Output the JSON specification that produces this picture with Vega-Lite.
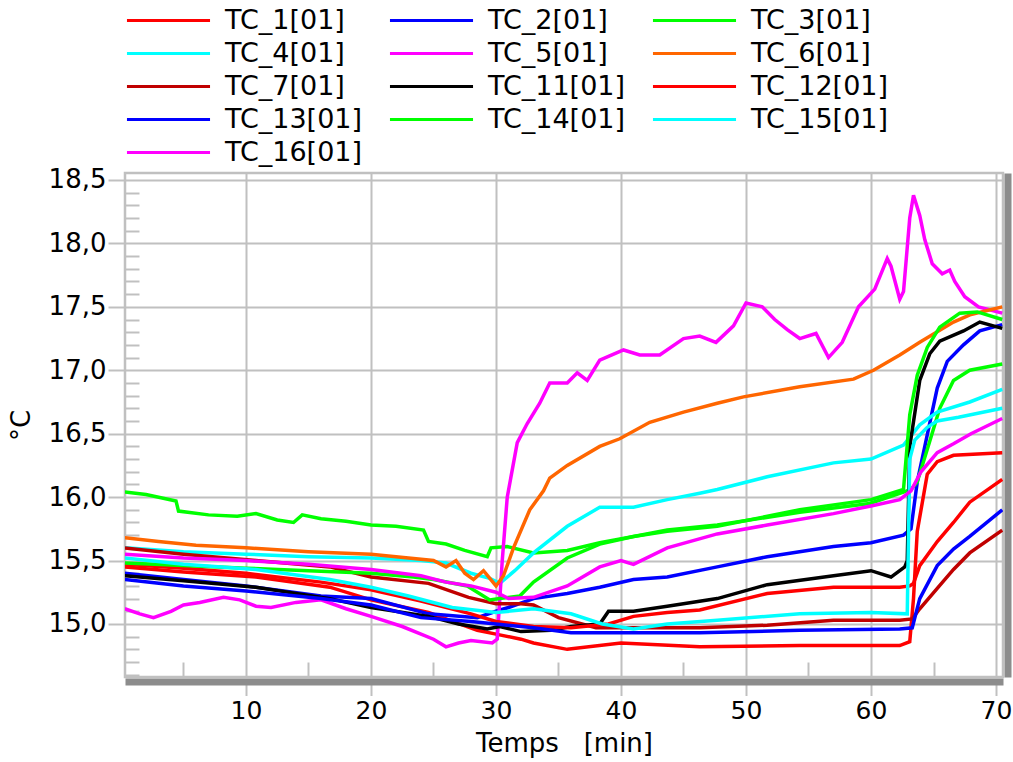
{
  "$schema": "https://vega.github.io/schema/vega-lite/v6.json",
  "width": 878,
  "height": 504,
  "autosize": {"type": "none"},
  "padding": {"left": 125, "top": 173, "right": 10, "bottom": 85},
  "background": "white",
  "config": {
    "view": {"stroke": "#c0c0c0", "strokeWidth": 2.5},
    "axis": {"labelFont": "DejaVu Sans", "titleFont": "DejaVu Sans", "labelColor": "#000000", "titleColor": "#000000", "titleFontWeight": "normal"},
    "legend": {"labelFont": "DejaVu Sans", "labelColor": "#000000"}
  },
  "data": {"values": [
    {"s":"TC_1[01]","t":0.3,"v":15.45},{"s":"TC_1[01]","t":5,"v":15.41},{"s":"TC_1[01]","t":10.8,"v":15.37},{"s":"TC_1[01]","t":16.7,"v":15.29},{"s":"TC_1[01]","t":20,"v":15.19},{"s":"TC_1[01]","t":24.6,"v":15.09},{"s":"TC_1[01]","t":28.5,"v":14.95},{"s":"TC_1[01]","t":30,"v":14.92},{"s":"TC_1[01]","t":32,"v":14.88},{"s":"TC_1[01]","t":33,"v":14.85},{"s":"TC_1[01]","t":35.7,"v":14.8},{"s":"TC_1[01]","t":40,"v":14.85},{"s":"TC_1[01]","t":46.3,"v":14.82},{"s":"TC_1[01]","t":54.3,"v":14.83},{"s":"TC_1[01]","t":62.3,"v":14.83},{"s":"TC_1[01]","t":63.1,"v":14.86},{"s":"TC_1[01]","t":63.4,"v":15.2},{"s":"TC_1[01]","t":63.7,"v":15.73},{"s":"TC_1[01]","t":64.5,"v":16.18},{"s":"TC_1[01]","t":65.3,"v":16.28},{"s":"TC_1[01]","t":66.6,"v":16.33},{"s":"TC_1[01]","t":70.5,"v":16.35},

    {"s":"TC_2[01]","t":0.3,"v":15.4},{"s":"TC_2[01]","t":5,"v":15.35},{"s":"TC_2[01]","t":10,"v":15.3},{"s":"TC_2[01]","t":16,"v":15.22},{"s":"TC_2[01]","t":20,"v":15.2},{"s":"TC_2[01]","t":24.6,"v":15.08},{"s":"TC_2[01]","t":28.5,"v":15.05},{"s":"TC_2[01]","t":30,"v":15.1},{"s":"TC_2[01]","t":31,"v":15.13},{"s":"TC_2[01]","t":33,"v":15.2},{"s":"TC_2[01]","t":35.7,"v":15.24},{"s":"TC_2[01]","t":38.3,"v":15.29},{"s":"TC_2[01]","t":41,"v":15.35},{"s":"TC_2[01]","t":43.7,"v":15.37},{"s":"TC_2[01]","t":47.7,"v":15.45},{"s":"TC_2[01]","t":51.7,"v":15.53},{"s":"TC_2[01]","t":57,"v":15.61},{"s":"TC_2[01]","t":60,"v":15.64},{"s":"TC_2[01]","t":62.6,"v":15.7},{"s":"TC_2[01]","t":63.2,"v":15.75},{"s":"TC_2[01]","t":63.7,"v":16.12},{"s":"TC_2[01]","t":64.5,"v":16.49},{"s":"TC_2[01]","t":65.3,"v":16.86},{"s":"TC_2[01]","t":66.1,"v":17.07},{"s":"TC_2[01]","t":67.4,"v":17.2},{"s":"TC_2[01]","t":68.7,"v":17.31},{"s":"TC_2[01]","t":70.5,"v":17.36},

    {"s":"TC_3[01]","t":0.3,"v":16.04},{"s":"TC_3[01]","t":2,"v":16.02},{"s":"TC_3[01]","t":4.4,"v":15.97},{"s":"TC_3[01]","t":4.6,"v":15.89},{"s":"TC_3[01]","t":7,"v":15.86},{"s":"TC_3[01]","t":9.3,"v":15.85},{"s":"TC_3[01]","t":10.8,"v":15.87},{"s":"TC_3[01]","t":12.5,"v":15.82},{"s":"TC_3[01]","t":13.8,"v":15.8},{"s":"TC_3[01]","t":14.5,"v":15.86},{"s":"TC_3[01]","t":16,"v":15.83},{"s":"TC_3[01]","t":18,"v":15.81},{"s":"TC_3[01]","t":20,"v":15.78},{"s":"TC_3[01]","t":22,"v":15.77},{"s":"TC_3[01]","t":24.2,"v":15.74},{"s":"TC_3[01]","t":24.6,"v":15.65},{"s":"TC_3[01]","t":26,"v":15.63},{"s":"TC_3[01]","t":27.5,"v":15.58},{"s":"TC_3[01]","t":29.3,"v":15.53},{"s":"TC_3[01]","t":29.6,"v":15.6},{"s":"TC_3[01]","t":30.9,"v":15.61},{"s":"TC_3[01]","t":33,"v":15.56},{"s":"TC_3[01]","t":35.7,"v":15.58},{"s":"TC_3[01]","t":38.3,"v":15.64},{"s":"TC_3[01]","t":41,"v":15.69},{"s":"TC_3[01]","t":43.7,"v":15.74},{"s":"TC_3[01]","t":47.7,"v":15.78},{"s":"TC_3[01]","t":54.3,"v":15.88},{"s":"TC_3[01]","t":59.9,"v":15.95},{"s":"TC_3[01]","t":62.6,"v":16.04},{"s":"TC_3[01]","t":63.2,"v":16.06},{"s":"TC_3[01]","t":63.7,"v":16.12},{"s":"TC_3[01]","t":64.7,"v":16.44},{"s":"TC_3[01]","t":65.5,"v":16.7},{"s":"TC_3[01]","t":66.6,"v":16.92},{"s":"TC_3[01]","t":67.9,"v":17.0},{"s":"TC_3[01]","t":70.5,"v":17.05},

    {"s":"TC_4[01]","t":0.3,"v":15.6},{"s":"TC_4[01]","t":5,"v":15.57},{"s":"TC_4[01]","t":10,"v":15.55},{"s":"TC_4[01]","t":15,"v":15.53},{"s":"TC_4[01]","t":20,"v":15.52},{"s":"TC_4[01]","t":24,"v":15.5},{"s":"TC_4[01]","t":26,"v":15.48},{"s":"TC_4[01]","t":28,"v":15.4},{"s":"TC_4[01]","t":29.5,"v":15.36},{"s":"TC_4[01]","t":30.3,"v":15.32},{"s":"TC_4[01]","t":31.5,"v":15.42},{"s":"TC_4[01]","t":33,"v":15.56},{"s":"TC_4[01]","t":35.7,"v":15.77},{"s":"TC_4[01]","t":38.3,"v":15.92},{"s":"TC_4[01]","t":41,"v":15.92},{"s":"TC_4[01]","t":43.7,"v":15.98},{"s":"TC_4[01]","t":46.3,"v":16.03},{"s":"TC_4[01]","t":47.7,"v":16.06},{"s":"TC_4[01]","t":51.7,"v":16.16},{"s":"TC_4[01]","t":57,"v":16.27},{"s":"TC_4[01]","t":60,"v":16.3},{"s":"TC_4[01]","t":62.6,"v":16.41},{"s":"TC_4[01]","t":63.9,"v":16.57},{"s":"TC_4[01]","t":65.3,"v":16.67},{"s":"TC_4[01]","t":67.9,"v":16.75},{"s":"TC_4[01]","t":70.5,"v":16.85},

    {"s":"TC_5[01]","t":0.3,"v":15.12},{"s":"TC_5[01]","t":1.5,"v":15.08},{"s":"TC_5[01]","t":2.6,"v":15.05},{"s":"TC_5[01]","t":4,"v":15.1},{"s":"TC_5[01]","t":5,"v":15.15},{"s":"TC_5[01]","t":6.3,"v":15.17},{"s":"TC_5[01]","t":8.2,"v":15.21},{"s":"TC_5[01]","t":9.5,"v":15.19},{"s":"TC_5[01]","t":10.8,"v":15.14},{"s":"TC_5[01]","t":12,"v":15.13},{"s":"TC_5[01]","t":14,"v":15.17},{"s":"TC_5[01]","t":16,"v":15.19},{"s":"TC_5[01]","t":18,"v":15.12},{"s":"TC_5[01]","t":20,"v":15.06},{"s":"TC_5[01]","t":22.5,"v":14.98},{"s":"TC_5[01]","t":24,"v":14.92},{"s":"TC_5[01]","t":25,"v":14.88},{"s":"TC_5[01]","t":26,"v":14.82},{"s":"TC_5[01]","t":27,"v":14.85},{"s":"TC_5[01]","t":28,"v":14.87},{"s":"TC_5[01]","t":29.7,"v":14.85},{"s":"TC_5[01]","t":30.1,"v":14.88},{"s":"TC_5[01]","t":30.5,"v":15.5},{"s":"TC_5[01]","t":30.9,"v":16.0},{"s":"TC_5[01]","t":31.7,"v":16.43},{"s":"TC_5[01]","t":32.5,"v":16.58},{"s":"TC_5[01]","t":33.5,"v":16.74},{"s":"TC_5[01]","t":34.3,"v":16.9},{"s":"TC_5[01]","t":35.7,"v":16.9},{"s":"TC_5[01]","t":36.5,"v":16.98},{"s":"TC_5[01]","t":37.3,"v":16.92},{"s":"TC_5[01]","t":38.3,"v":17.08},{"s":"TC_5[01]","t":40.2,"v":17.16},{"s":"TC_5[01]","t":41.5,"v":17.12},{"s":"TC_5[01]","t":43.1,"v":17.12},{"s":"TC_5[01]","t":45,"v":17.25},{"s":"TC_5[01]","t":46.3,"v":17.27},{"s":"TC_5[01]","t":47.6,"v":17.22},{"s":"TC_5[01]","t":49,"v":17.35},{"s":"TC_5[01]","t":50,"v":17.53},{"s":"TC_5[01]","t":51.3,"v":17.5},{"s":"TC_5[01]","t":52.3,"v":17.4},{"s":"TC_5[01]","t":53.3,"v":17.32},{"s":"TC_5[01]","t":54.3,"v":17.25},{"s":"TC_5[01]","t":55.6,"v":17.29},{"s":"TC_5[01]","t":56.6,"v":17.1},{"s":"TC_5[01]","t":57.7,"v":17.22},{"s":"TC_5[01]","t":59,"v":17.5},{"s":"TC_5[01]","t":60.3,"v":17.64},{"s":"TC_5[01]","t":61.3,"v":17.88},{"s":"TC_5[01]","t":61.6,"v":17.82},{"s":"TC_5[01]","t":62.3,"v":17.56},{"s":"TC_5[01]","t":62.6,"v":17.62},{"s":"TC_5[01]","t":63.1,"v":18.2},{"s":"TC_5[01]","t":63.4,"v":18.38},{"s":"TC_5[01]","t":63.9,"v":18.22},{"s":"TC_5[01]","t":64.3,"v":18.03},{"s":"TC_5[01]","t":64.9,"v":17.84},{"s":"TC_5[01]","t":65.7,"v":17.76},{"s":"TC_5[01]","t":66.3,"v":17.79},{"s":"TC_5[01]","t":66.7,"v":17.7},{"s":"TC_5[01]","t":67.5,"v":17.58},{"s":"TC_5[01]","t":68.6,"v":17.5},{"s":"TC_5[01]","t":70.5,"v":17.45},

    {"s":"TC_6[01]","t":0.3,"v":15.68},{"s":"TC_6[01]","t":3,"v":15.65},{"s":"TC_6[01]","t":6,"v":15.62},{"s":"TC_6[01]","t":10,"v":15.6},{"s":"TC_6[01]","t":15,"v":15.57},{"s":"TC_6[01]","t":20,"v":15.55},{"s":"TC_6[01]","t":23,"v":15.52},{"s":"TC_6[01]","t":25,"v":15.5},{"s":"TC_6[01]","t":26,"v":15.45},{"s":"TC_6[01]","t":26.8,"v":15.5},{"s":"TC_6[01]","t":27.5,"v":15.4},{"s":"TC_6[01]","t":28.2,"v":15.35},{"s":"TC_6[01]","t":29,"v":15.42},{"s":"TC_6[01]","t":30,"v":15.3},{"s":"TC_6[01]","t":30.6,"v":15.38},{"s":"TC_6[01]","t":31.4,"v":15.6},{"s":"TC_6[01]","t":32.7,"v":15.9},{"s":"TC_6[01]","t":33.8,"v":16.05},{"s":"TC_6[01]","t":34.3,"v":16.15},{"s":"TC_6[01]","t":35.7,"v":16.25},{"s":"TC_6[01]","t":38.3,"v":16.4},{"s":"TC_6[01]","t":39.9,"v":16.46},{"s":"TC_6[01]","t":42.3,"v":16.59},{"s":"TC_6[01]","t":45,"v":16.67},{"s":"TC_6[01]","t":47.7,"v":16.74},{"s":"TC_6[01]","t":49.8,"v":16.79},{"s":"TC_6[01]","t":54.3,"v":16.87},{"s":"TC_6[01]","t":58.6,"v":16.93},{"s":"TC_6[01]","t":60.2,"v":17.0},{"s":"TC_6[01]","t":62.3,"v":17.12},{"s":"TC_6[01]","t":63.9,"v":17.22},{"s":"TC_6[01]","t":66.6,"v":17.38},{"s":"TC_6[01]","t":68,"v":17.44},{"s":"TC_6[01]","t":70.5,"v":17.5},

    {"s":"TC_7[01]","t":0.3,"v":15.6},{"s":"TC_7[01]","t":5,"v":15.55},{"s":"TC_7[01]","t":10.8,"v":15.5},{"s":"TC_7[01]","t":16.7,"v":15.45},{"s":"TC_7[01]","t":20,"v":15.37},{"s":"TC_7[01]","t":24.6,"v":15.32},{"s":"TC_7[01]","t":27.8,"v":15.21},{"s":"TC_7[01]","t":30,"v":15.16},{"s":"TC_7[01]","t":32,"v":15.16},{"s":"TC_7[01]","t":33,"v":15.15},{"s":"TC_7[01]","t":35,"v":15.05},{"s":"TC_7[01]","t":38,"v":14.97},{"s":"TC_7[01]","t":46.3,"v":14.97},{"s":"TC_7[01]","t":51.7,"v":14.99},{"s":"TC_7[01]","t":57,"v":15.03},{"s":"TC_7[01]","t":62.3,"v":15.03},{"s":"TC_7[01]","t":63.3,"v":15.04},{"s":"TC_7[01]","t":63.9,"v":15.12},{"s":"TC_7[01]","t":65.3,"v":15.28},{"s":"TC_7[01]","t":66.6,"v":15.43},{"s":"TC_7[01]","t":67.9,"v":15.56},{"s":"TC_7[01]","t":70.5,"v":15.74},

    {"s":"TC_11[01]","t":0.3,"v":15.38},{"s":"TC_11[01]","t":5,"v":15.34},{"s":"TC_11[01]","t":10.8,"v":15.29},{"s":"TC_11[01]","t":16.7,"v":15.2},{"s":"TC_11[01]","t":20,"v":15.13},{"s":"TC_11[01]","t":24.6,"v":15.06},{"s":"TC_11[01]","t":27,"v":15.0},{"s":"TC_11[01]","t":29.3,"v":14.96},{"s":"TC_11[01]","t":30.3,"v":14.98},{"s":"TC_11[01]","t":32,"v":14.94},{"s":"TC_11[01]","t":34.4,"v":14.95},{"s":"TC_11[01]","t":36,"v":14.98},{"s":"TC_11[01]","t":38.3,"v":15.0},{"s":"TC_11[01]","t":39,"v":15.1},{"s":"TC_11[01]","t":41,"v":15.1},{"s":"TC_11[01]","t":43.7,"v":15.14},{"s":"TC_11[01]","t":47.7,"v":15.2},{"s":"TC_11[01]","t":51.7,"v":15.31},{"s":"TC_11[01]","t":57,"v":15.38},{"s":"TC_11[01]","t":60,"v":15.42},{"s":"TC_11[01]","t":61.6,"v":15.37},{"s":"TC_11[01]","t":62.7,"v":15.45},{"s":"TC_11[01]","t":62.9,"v":15.5},{"s":"TC_11[01]","t":63.1,"v":16.4},{"s":"TC_11[01]","t":63.9,"v":16.92},{"s":"TC_11[01]","t":64.7,"v":17.13},{"s":"TC_11[01]","t":65.5,"v":17.23},{"s":"TC_11[01]","t":67.4,"v":17.31},{"s":"TC_11[01]","t":68.7,"v":17.38},{"s":"TC_11[01]","t":70.5,"v":17.33},

    {"s":"TC_12[01]","t":0.3,"v":15.47},{"s":"TC_12[01]","t":5,"v":15.44},{"s":"TC_12[01]","t":10,"v":15.4},{"s":"TC_12[01]","t":16,"v":15.33},{"s":"TC_12[01]","t":20,"v":15.27},{"s":"TC_12[01]","t":24,"v":15.18},{"s":"TC_12[01]","t":28,"v":15.08},{"s":"TC_12[01]","t":30,"v":15.02},{"s":"TC_12[01]","t":33,"v":14.98},{"s":"TC_12[01]","t":36,"v":14.97},{"s":"TC_12[01]","t":39,"v":15.0},{"s":"TC_12[01]","t":41,"v":15.06},{"s":"TC_12[01]","t":43.7,"v":15.09},{"s":"TC_12[01]","t":46.3,"v":15.11},{"s":"TC_12[01]","t":51.7,"v":15.24},{"s":"TC_12[01]","t":57,"v":15.29},{"s":"TC_12[01]","t":62.3,"v":15.29},{"s":"TC_12[01]","t":63.1,"v":15.3},{"s":"TC_12[01]","t":63.4,"v":15.32},{"s":"TC_12[01]","t":63.9,"v":15.46},{"s":"TC_12[01]","t":65.3,"v":15.65},{"s":"TC_12[01]","t":66.6,"v":15.8},{"s":"TC_12[01]","t":67.9,"v":15.96},{"s":"TC_12[01]","t":70.5,"v":16.14},

    {"s":"TC_13[01]","t":0.3,"v":15.35},{"s":"TC_13[01]","t":5,"v":15.3},{"s":"TC_13[01]","t":10,"v":15.26},{"s":"TC_13[01]","t":16,"v":15.2},{"s":"TC_13[01]","t":20,"v":15.15},{"s":"TC_13[01]","t":24,"v":15.05},{"s":"TC_13[01]","t":28,"v":15.02},{"s":"TC_13[01]","t":30,"v":15.0},{"s":"TC_13[01]","t":33,"v":14.97},{"s":"TC_13[01]","t":36,"v":14.93},{"s":"TC_13[01]","t":40,"v":14.93},{"s":"TC_13[01]","t":46.3,"v":14.93},{"s":"TC_13[01]","t":54.3,"v":14.95},{"s":"TC_13[01]","t":62.3,"v":14.96},{"s":"TC_13[01]","t":63.3,"v":14.97},{"s":"TC_13[01]","t":63.9,"v":15.2},{"s":"TC_13[01]","t":65.3,"v":15.46},{"s":"TC_13[01]","t":66.6,"v":15.59},{"s":"TC_13[01]","t":67.9,"v":15.69},{"s":"TC_13[01]","t":70.5,"v":15.9},

    {"s":"TC_14[01]","t":0.3,"v":15.48},{"s":"TC_14[01]","t":5,"v":15.46},{"s":"TC_14[01]","t":10,"v":15.44},{"s":"TC_14[01]","t":15,"v":15.42},{"s":"TC_14[01]","t":20,"v":15.4},{"s":"TC_14[01]","t":23.4,"v":15.37},{"s":"TC_14[01]","t":25,"v":15.35},{"s":"TC_14[01]","t":27.7,"v":15.3},{"s":"TC_14[01]","t":29.5,"v":15.19},{"s":"TC_14[01]","t":30.3,"v":15.2},{"s":"TC_14[01]","t":31.9,"v":15.22},{"s":"TC_14[01]","t":33,"v":15.33},{"s":"TC_14[01]","t":35.7,"v":15.52},{"s":"TC_14[01]","t":38.3,"v":15.63},{"s":"TC_14[01]","t":41,"v":15.69},{"s":"TC_14[01]","t":43.7,"v":15.73},{"s":"TC_14[01]","t":47.7,"v":15.77},{"s":"TC_14[01]","t":54.3,"v":15.9},{"s":"TC_14[01]","t":60,"v":15.98},{"s":"TC_14[01]","t":62.6,"v":16.06},{"s":"TC_14[01]","t":63.1,"v":16.65},{"s":"TC_14[01]","t":63.7,"v":16.96},{"s":"TC_14[01]","t":64.5,"v":17.18},{"s":"TC_14[01]","t":65.5,"v":17.34},{"s":"TC_14[01]","t":67.1,"v":17.45},{"s":"TC_14[01]","t":68.5,"v":17.46},{"s":"TC_14[01]","t":70.5,"v":17.4},

    {"s":"TC_15[01]","t":0.3,"v":15.52},{"s":"TC_15[01]","t":5,"v":15.47},{"s":"TC_15[01]","t":10.8,"v":15.43},{"s":"TC_15[01]","t":16.7,"v":15.35},{"s":"TC_15[01]","t":20,"v":15.29},{"s":"TC_15[01]","t":23,"v":15.22},{"s":"TC_15[01]","t":26.5,"v":15.13},{"s":"TC_15[01]","t":30,"v":15.09},{"s":"TC_15[01]","t":33,"v":15.12},{"s":"TC_15[01]","t":36,"v":15.08},{"s":"TC_15[01]","t":38.5,"v":15.0},{"s":"TC_15[01]","t":41,"v":14.96},{"s":"TC_15[01]","t":43.7,"v":15.0},{"s":"TC_15[01]","t":47.7,"v":15.03},{"s":"TC_15[01]","t":54.3,"v":15.08},{"s":"TC_15[01]","t":60,"v":15.09},{"s":"TC_15[01]","t":62.9,"v":15.08},{"s":"TC_15[01]","t":63.1,"v":16.3},{"s":"TC_15[01]","t":63.5,"v":16.45},{"s":"TC_15[01]","t":64.5,"v":16.55},{"s":"TC_15[01]","t":65.3,"v":16.6},{"s":"TC_15[01]","t":67,"v":16.63},{"s":"TC_15[01]","t":70.5,"v":16.7},

    {"s":"TC_16[01]","t":0.3,"v":15.55},{"s":"TC_16[01]","t":5,"v":15.52},{"s":"TC_16[01]","t":10,"v":15.5},{"s":"TC_16[01]","t":15,"v":15.47},{"s":"TC_16[01]","t":20,"v":15.43},{"s":"TC_16[01]","t":24,"v":15.38},{"s":"TC_16[01]","t":26,"v":15.33},{"s":"TC_16[01]","t":28,"v":15.3},{"s":"TC_16[01]","t":30,"v":15.25},{"s":"TC_16[01]","t":31,"v":15.2},{"s":"TC_16[01]","t":33,"v":15.21},{"s":"TC_16[01]","t":35.7,"v":15.3},{"s":"TC_16[01]","t":38.3,"v":15.45},{"s":"TC_16[01]","t":40,"v":15.5},{"s":"TC_16[01]","t":41,"v":15.47},{"s":"TC_16[01]","t":43.7,"v":15.6},{"s":"TC_16[01]","t":47.7,"v":15.71},{"s":"TC_16[01]","t":51.7,"v":15.78},{"s":"TC_16[01]","t":57,"v":15.87},{"s":"TC_16[01]","t":60,"v":15.93},{"s":"TC_16[01]","t":62.3,"v":15.98},{"s":"TC_16[01]","t":63.2,"v":16.05},{"s":"TC_16[01]","t":64,"v":16.2},{"s":"TC_16[01]","t":65.3,"v":16.35},{"s":"TC_16[01]","t":66.6,"v":16.42},{"s":"TC_16[01]","t":68,"v":16.5},{"s":"TC_16[01]","t":70.5,"v":16.62}
  ]},
  "layer": [
    {
      "mark": {"type": "line", "strokeWidth": 3.5, "clip": true},
      "encoding": {
        "x": {"field": "t", "type": "quantitative",
          "scale": {"domain": [0.32, 70.56], "nice": false, "zero": false},
          "axis": {"orient": "bottom", "values": [10, 20, 30, 40, 50, 60, 70], "grid": true, "gridColor": "#c0c0c0", "gridWidth": 2,
            "domain": true, "domainColor": "#8c8c8c", "domainWidth": 7, "offset": 4.5,
            "ticks": true, "tickSize": 14, "tickColor": "#c0c0c0", "tickWidth": 2,
            "labelFontSize": 25, "labelPadding": 3, "labelFlush": false,
            "title": "Temps\u00a0\u00a0\u00a0[min]", "titleFontSize": 26, "titlePadding": 7}},
        "y": {"field": "v", "type": "quantitative",
          "scale": {"domain": [14.582, 18.555], "nice": false, "zero": false},
          "axis": {"orient": "left", "values": [15, 15.5, 16, 16.5, 17, 17.5, 18, 18.5], "grid": true, "gridColor": "#c0c0c0", "gridWidth": 2,
            "domain": false, "ticks": true, "tickSize": 17, "tickColor": "#c0c0c0", "tickWidth": 2,
            "labelFontSize": 26, "labelPadding": 2, "labelFlush": false,
            "labelExpr": "replace(format(datum.value, '.1f'), '.', ',')",
            "title": "°C", "titleFontSize": 26, "titlePadding": 14}},
        "color": {"field": "s", "type": "nominal",
          "scale": {"domain": ["TC_1[01]", "TC_2[01]", "TC_3[01]", "TC_4[01]", "TC_5[01]", "TC_6[01]", "TC_7[01]", "TC_11[01]", "TC_12[01]", "TC_13[01]", "TC_14[01]", "TC_15[01]", "TC_16[01]"],
            "range": ["#ff0000", "#0000ff", "#00ff00", "#00ffff", "#ff00ff", "#ff6600", "#c00000", "#000000", "#ff0000", "#0000ff", "#00ff00", "#00ffff", "#ff00ff"]},
          "legend": {"orient": "none", "legendX": -3, "legendY": -166, "direction": "horizontal", "columns": 3, "gridAlign": "none",
            "title": null, "padding": 0, "columnPadding": 20, "rowPadding": 5,
            "symbolType": "M-5,0H5", "symbolSize": 276, "symbolStrokeWidth": 3, "symbolOffset": 33,
            "labelFontSize": 27, "labelOffset": 43, "labelLimit": 300}}
      }
    },
    {
      "mark": {"type": "point", "opacity": 0},
      "encoding": {
        "x": {"field": "t", "type": "quantitative",
          "axis": {"orient": "bottom", "values": [5, 15, 25, 35, 45, 55, 65], "grid": false, "domain": false, "labels": false,
            "ticks": true, "tickSize": -15, "tickColor": "#c0c0c0", "tickWidth": 2, "title": null}},
        "y": {"field": "v", "type": "quantitative",
          "axis": {"orient": "left", "values": [14.6, 14.7, 14.8, 14.9, 15.1, 15.2, 15.3, 15.4, 15.6, 15.7, 15.8, 15.9, 16.1, 16.2, 16.3, 16.4, 16.6, 16.7, 16.8, 16.9, 17.1, 17.2, 17.3, 17.4, 17.6, 17.7, 17.8, 17.9, 18.1, 18.2, 18.3, 18.4],
            "grid": false, "domain": false, "labels": false, "ticks": true, "tickSize": -14, "tickColor": "#c0c0c0", "tickWidth": 2, "title": null}}
      }
    },
    {
      "mark": {"type": "point", "opacity": 0},
      "encoding": {
        "x": {"field": "t", "type": "quantitative", "axis": null},
        "y": {"field": "v", "type": "quantitative",
          "axis": {"orient": "right", "grid": false, "domain": true, "domainColor": "#8c8c8c", "domainWidth": 7, "offset": 4.5,
            "labels": false, "ticks": false, "title": null}}
      }
    }
  ],
  "resolve": {"axis": {"x": "independent", "y": "independent"}}
}
